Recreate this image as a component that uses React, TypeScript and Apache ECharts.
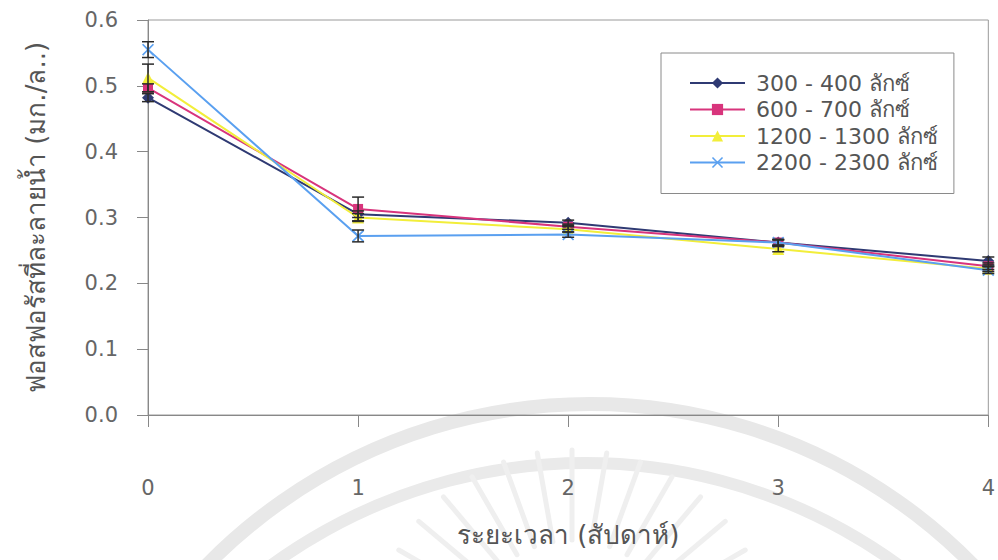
import React, { useEffect, useRef } from "react";
import * as echarts from "echarts";

const weeks = [0, 1, 2, 3, 4];
const xTicks = ["0", "1", "2", "3", "4"];
const seriesNames = ["300 - 400 ลักซ์", "600 - 700 ลักซ์", "1200 - 1300 ลักซ์", "2200 - 2300 ลักซ์"];
const s300 = [0.482, 0.305, 0.292, 0.262, 0.234];
const s600 = [0.497, 0.313, 0.286, 0.262, 0.226];
const s1200 = [0.512, 0.3, 0.282, 0.252, 0.222];
const s2200 = [0.555, 0.272, 0.274, 0.262, 0.22];
const e300 = [0.006, 0.005, 0.004, 0.004, 0.006];
const e600 = [0.006, 0.018, 0.004, 0.004, 0.005];
const e1200 = [0.021, 0.006, 0.004, 0.004, 0.004];
const e2200 = [0.012, 0.009, 0.004, 0.005, 0.005];

const colors = ["#2f3a73", "#d8347c", "#f2ee3a", "#5aa0f0"];
const symbols = [
  "diamond",
  "rect",
  "triangle",
  "path://M0,1L1,0L5,4L9,0L10,1L6,5L10,9L9,10L5,6L1,10L0,9L4,5Z",
];
const symbolSizes = [12, 10, 12, 12];

const FONT = '"DejaVu Sans", "Liberation Sans", Arial, sans-serif';

export default function App() {
  const ref = useRef<HTMLDivElement>(null);
  useEffect(() => {
    if (!ref.current) return;
    const chart = echarts.init(ref.current, null, { renderer: "svg" });
    const values = [s300, s600, s1200, s2200];
    const errs = [e300, e600, e1200, e2200];

    const lineSeries = values.map((vals, i) => ({
      name: seriesNames[i],
      type: "line",
      data: weeks.map((w, j) => [w, vals[j]]),
      symbol: symbols[i],
      symbolSize: symbolSizes[i],
      showSymbol: true,
      lineStyle: { color: colors[i], width: 2 },
      itemStyle: { color: colors[i] },
      z: 3 + i,
    }));

    const errData: number[][] = [];
    values.forEach((vals, i) => {
      weeks.forEach((w, j) => errData.push([w, vals[j], errs[i][j]]));
    });

    const errSeries = {
      type: "custom",
      name: "err",
      data: errData,
      z: 10,
      renderItem: (params: any, api: any) => {
        const x = api.value(0);
        const y = api.value(1);
        const e = api.value(2);
        const hi = api.coord([x, y + e]);
        const lo = api.coord([x, y - e]);
        const hw = 6;
        const style = { stroke: "#2a2a2a", lineWidth: 1.5 };
        return {
          type: "group",
          children: [
            { type: "line", shape: { x1: hi[0], y1: hi[1], x2: lo[0], y2: lo[1] }, style },
            { type: "line", shape: { x1: hi[0] - hw, y1: hi[1], x2: hi[0] + hw, y2: hi[1] }, style },
            { type: "line", shape: { x1: lo[0] - hw, y1: lo[1], x2: lo[0] + hw, y2: lo[1] }, style },
          ],
        };
      },
    };

    // faint watermark decoration
    const rays: any[] = [];
    for (let a = -160; a <= -20; a += 10) {
      const r = (a * Math.PI) / 180;
      const cx = 572;
      const cy = 650;
      rays.push({
        type: "line",
        z: -10,
        silent: true,
        shape: {
          x1: cx + Math.cos(r) * 110,
          y1: cy + Math.sin(r) * 110,
          x2: cx + Math.cos(r) * 200,
          y2: cy + Math.sin(r) * 200,
        },
        style: { stroke: "#efefef", lineWidth: 5, lineCap: "round" },
      });
    }

    chart.setOption({
      animation: false,
      backgroundColor: "#ffffff",
      textStyle: { fontFamily: FONT },
      graphic: [
        {
          type: "arc",
          z: -10,
          silent: true,
          shape: { cx: 590, cy: 940, r: 536, startAngle: (200 * Math.PI) / 180, endAngle: (340 * Math.PI) / 180, clockwise: true },
          style: { stroke: "#e8e8e8", lineWidth: 14, fill: "none" },
        },
        {
          type: "arc",
          z: -10,
          silent: true,
          shape: { cx: 585, cy: 995, r: 532, startAngle: (215 * Math.PI) / 180, endAngle: (325 * Math.PI) / 180, clockwise: true },
          style: { stroke: "#eaeaea", lineWidth: 12, fill: "none" },
        },
        ...rays,
      ],
      grid: {
        left: 148,
        right: 8,
        top: 20,
        bottom: 145,
        show: true,
        borderColor: "#9a9a9a",
        borderWidth: 1,
        backgroundColor: "transparent",
      },
      legend: {
        data: seriesNames,
        orient: "vertical",
        left: 661,
        top: 53,
        padding: [19, 16, 20, 28],
        itemGap: 4.5,
        itemWidth: 55,
        itemHeight: 14,
        borderColor: "#8a8a8a",
        borderWidth: 1,
        backgroundColor: "#ffffff",
        textStyle: { fontSize: 22, color: "#555", fontFamily: FONT, lineHeight: 21, padding: [0, 0, 0, 6] },
      },
      xAxis: {
        type: "value",
        min: 0,
        max: 4,
        interval: 1,
        name: "ระยะเวลา (สัปดาห์)",
        nameLocation: "middle",
        nameGap: 107,
        nameTextStyle: { fontSize: 26, color: "#555", fontFamily: FONT },
        axisLine: { lineStyle: { color: "#888", width: 1 } },
        axisTick: { show: true, inside: false, length: 12, lineStyle: { color: "#888" } },
        axisLabel: {
          margin: 62,
          fontSize: 21,
          color: "#666",
          fontFamily: FONT,
          formatter: (v: number) => xTicks[Math.round(v)] ?? "",
        },
        splitLine: { show: false },
      },
      yAxis: {
        type: "value",
        min: 0,
        max: 0.6,
        interval: 0.1,
        name: "ฟอสฟอรัสที่ละลายน้ำ (มก./ล..)",
        nameLocation: "middle",
        nameGap: 99,
        nameRotate: 90,
        nameTextStyle: { fontSize: 26, color: "#555", fontFamily: FONT },
        axisLine: { show: true, lineStyle: { color: "#888", width: 1 } },
        axisTick: { show: true, length: 11, lineStyle: { color: "#888" } },
        axisLabel: {
          margin: 30,
          fontSize: 21,
          color: "#666",
          fontFamily: FONT,
          formatter: (v: number) => v.toFixed(1),
        },
        splitLine: { show: false },
      },
      series: [...lineSeries, errSeries],
    });
    return () => chart.dispose();
  }, []);
  return (
    <div
      ref={ref}
      style={{ position: "fixed", left: 0, top: 0, width: 998, height: 560, background: "#fff" }}
    />
  );
}
